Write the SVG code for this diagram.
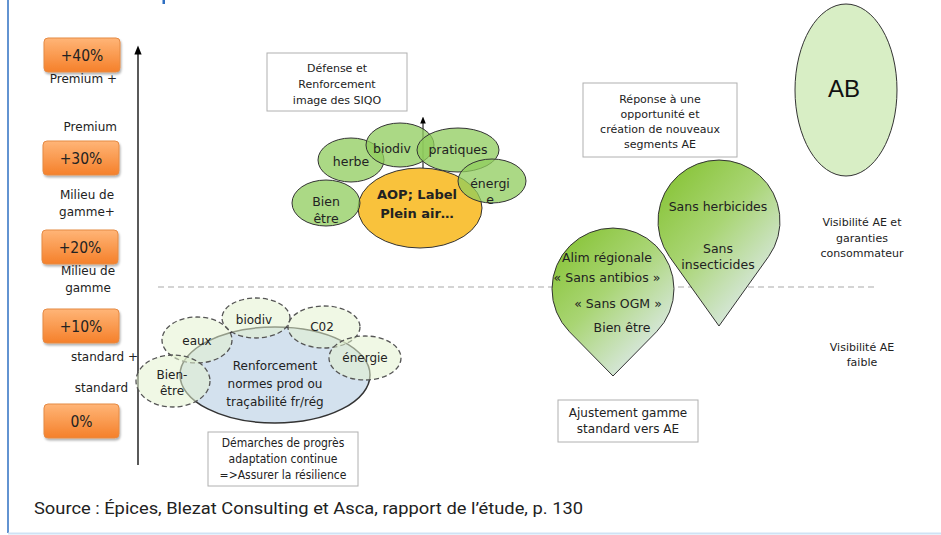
<svg xmlns="http://www.w3.org/2000/svg" width="941" height="535" viewBox="0 0 941 535">
<defs>
<linearGradient id="orange" x1="0" y1="0" x2="0" y2="1">
<stop offset="0" stop-color="#ffb577"/>
<stop offset="1" stop-color="#f5802a"/>
</linearGradient>
<linearGradient id="pin" x1="0.15" y1="0.1" x2="0.85" y2="0.95">
<stop offset="0" stop-color="#8cc63f"/>
<stop offset="0.4" stop-color="#a9d574"/>
<stop offset="1" stop-color="#e4ecf9"/>
</linearGradient>
<filter id="sh" x="-10%" y="-10%" width="130%" height="140%">
<feDropShadow dx="1" dy="2" stdDeviation="1.2" flood-color="#000" flood-opacity="0.3"/>
</filter>
<marker id="arr" viewBox="0 0 10 10" refX="5" refY="5" markerWidth="7" markerHeight="7" orient="auto">
<path d="M0,1 L10,5 L0,9 Z" fill="#000"/>
</marker>
</defs>
<style>
.t{font-family:"DejaVu Sans",Verdana,sans-serif;font-size:12px;fill:#222;text-anchor:middle}
.tc{font-family:"DejaVu Sans Condensed","DejaVu Sans",sans-serif;font-size:12px;fill:#222;text-anchor:middle}
.lab{font-family:"DejaVu Sans",Verdana,sans-serif;font-size:12px;fill:#222;text-anchor:middle}
.box{fill:#fff;stroke:#b0b0b0;stroke-width:1}
.obox{fill:url(#orange);stroke:#e58a45;stroke-width:1}
.otxt{font-family:"DejaVu Sans Condensed","DejaVu Sans",sans-serif;font-size:15.5px;fill:#222;text-anchor:middle}
.gel{fill:#8fcc5c;fill-opacity:0.75;stroke:#333;stroke-width:1}
.del{fill:#e3f2d0;fill-opacity:0.55;stroke:#555;stroke-width:1.3;stroke-dasharray:5 3}
.pin{fill:url(#pin);stroke:#333;stroke-width:1}
.ct{font-family:"DejaVu Sans",Verdana,sans-serif;font-size:12.5px;fill:#222;text-anchor:middle}
</style>
<rect x="0" y="0" width="941" height="535" fill="#fff"/>
<line x1="8" y1="0" x2="8" y2="533" stroke="#2e6fc2" stroke-width="1.5"/>
<line x1="8" y1="533.5" x2="941" y2="533.5" stroke="#cfe3f5" stroke-width="2"/>
<rect x="162.5" y="0" width="2.5" height="4" fill="#2e6fc2"/>

<g id="connectors">
<line x1="138" y1="465" x2="138" y2="50" stroke="#000" stroke-width="1.3" marker-end="url(#arr)"/>
<line x1="158" y1="287" x2="878" y2="287" stroke="#aaa" stroke-width="1.2" stroke-dasharray="6 4"/>
</g>

<g id="scale">
<g id="p40"><rect class="obox" x="44" y="38" width="76" height="34" rx="4" filter="url(#sh)"/><text class="otxt" x="82" y="61">+40%</text></g>
<g id="p30"><rect class="obox" x="43" y="141" width="76" height="34" rx="4" filter="url(#sh)"/><text class="otxt" x="81" y="164">+30%</text></g>
<g id="p20"><rect class="obox" x="42" y="230" width="76" height="34" rx="4" filter="url(#sh)"/><text class="otxt" x="80" y="253">+20%</text></g>
<g id="p10"><rect class="obox" x="43" y="309" width="76" height="34" rx="4" filter="url(#sh)"/><text class="otxt" x="81" y="332">+10%</text></g>
<g id="p0"><rect class="obox" x="44" y="404" width="75" height="34" rx="4" filter="url(#sh)"/><text class="otxt" x="81.5" y="427">0%</text></g>
<text class="t" x="117" y="83" style="text-anchor:end">Premium +</text>
<text class="t" x="117" y="131" style="text-anchor:end">Premium</text>
<text class="t" x="87" y="199">Milieu de</text>
<text class="t" x="87" y="216">gamme+</text>
<text class="t" x="88" y="275">Milieu de</text>
<text class="t" x="88" y="292">gamme</text>
<text class="t" x="138" y="361" style="text-anchor:end">standard +</text>
<text class="t" x="128" y="392" style="text-anchor:end">standard</text>
</g>

<g id="standard-cluster">
<ellipse cx="275" cy="375" rx="95" ry="48" fill="#d3e1ee" stroke="#333" stroke-width="1.5"/>
<ellipse class="del" cx="256" cy="318" rx="34" ry="20"/>
<ellipse class="del" cx="197" cy="340" rx="35" ry="23"/>
<ellipse class="del" cx="324" cy="327" rx="36" ry="21"/>
<ellipse class="del" cx="365" cy="358" rx="36" ry="22"/>
<ellipse class="del" cx="173" cy="381" rx="37" ry="26"/>
<text class="t" x="254" y="324">biodiv</text>
<text class="t" x="197" y="345">eaux</text>
<text class="t" x="322" y="331">C02</text>
<text class="t" x="365" y="362">énergie</text>
<text class="t" x="172" y="379">Bien-</text>
<text class="t" x="172" y="395">être</text>
<text class="t" x="275" y="370">Renforcement</text>
<text class="t" x="275" y="388">normes prod ou</text>
<text class="t" x="275" y="406">traçabilité fr/rég</text>
</g>
<g id="demarches">
<rect class="box" x="208" y="432" width="150" height="54"/>
<text class="tc" x="283" y="447">Démarches de progrès</text>
<text class="tc" x="283" y="463">adaptation continue</text>
<text class="tc" x="283" y="479">=&gt;Assurer la résilience</text>
</g>

<g id="siqo-box">
<rect class="box" x="267" y="53" width="140" height="58"/>
<text class="t" x="337" y="72" style="font-size:11px">Défense et</text>
<text class="t" x="337" y="88" style="font-size:11px">Renforcement</text>
<text class="t" x="337" y="104" style="font-size:11px">image des SIQO</text>
</g>
<g id="siqo-cluster">
<ellipse cx="420" cy="208" rx="62" ry="40" fill="#f9c23c" stroke="#333" stroke-width="1"/>
<line x1="423" y1="168" x2="423" y2="120" stroke="#000" stroke-width="1" marker-end="url(#arr)"/>
<ellipse class="gel" cx="351" cy="160" rx="33" ry="22"/>
<ellipse class="gel" cx="400" cy="145" rx="34" ry="22"/>
<ellipse class="gel" cx="458" cy="150" rx="41" ry="22"/>
<ellipse class="gel" cx="492" cy="181" rx="34" ry="22"/>
<ellipse class="gel" cx="326" cy="203" rx="34" ry="23"/>
<text class="ct" x="351" y="166">herbe</text>
<text class="ct" x="392" y="153">biodiv</text>
<text class="ct" x="458" y="154">pratiques</text>
<text class="ct" x="490" y="188">énergi</text>
<text class="ct" x="490" y="204">e</text>
<text class="ct" x="326" y="206">Bien</text>
<text class="ct" x="326" y="223">être</text>
<text class="ct" x="417" y="199" style="font-weight:bold;font-size:13px">AOP; Label</text>
<text class="ct" x="417" y="218" style="font-weight:bold;font-size:13px">Plein air…</text>
</g>

<g id="reponse-box">
<rect class="box" x="583" y="83" width="154" height="74"/>
<text class="t" x="660" y="103" style="font-size:11px">Réponse à une</text>
<text class="t" x="660" y="118" style="font-size:11px">opportunité et</text>
<text class="t" x="660" y="133" style="font-size:11px">création de nouveaux</text>
<text class="t" x="660" y="148" style="font-size:11px">segments AE</text>
</g>
<g id="pin-left">
<path class="pin" d="M613,376 L569.5,331.8 A61,61 0 1 1 656.5,331.8 Z"/>
<text class="ct" x="607" y="262">Alim régionale</text>
<text class="ct" x="607" y="282">« Sans antibios »</text>
<text class="ct" x="618" y="308">« Sans OGM »</text>
<text class="ct" x="622" y="332">Bien être</text>
</g>
<g id="pin-right">
<path class="pin" d="M719,326 L669.3,256.4 A61,61 0 1 1 768.7,256.4 Z"/>
<text class="ct" x="718" y="211">Sans herbicides</text>
<text class="ct" x="718" y="253">Sans</text>
<text class="ct" x="718" y="269">insecticides</text>
</g>
<g id="ajustement">
<rect class="box" x="558" y="400" width="140" height="42"/>
<text class="t" x="628" y="417">Ajustement gamme</text>
<text class="t" x="628" y="433">standard vers AE</text>
</g>

<g id="ab">
<ellipse cx="846" cy="90" rx="51" ry="86" fill="#d8eec5" stroke="#333" stroke-width="1"/>
<text x="844" y="97" style="font-family:'Liberation Sans',Arial,sans-serif;font-size:24px;fill:#111;text-anchor:middle">AB</text>
</g>
<g id="visibilite">
<text class="t" x="862" y="226" style="font-size:11px">Visibilité  AE et</text>
<text class="t" x="862" y="242" style="font-size:11px">garanties</text>
<text class="t" x="862" y="257" style="font-size:11px">consommateur</text>
<text class="t" x="862" y="351" style="font-size:11px">Visibilité  AE</text>
<text class="t" x="862" y="366" style="font-size:11px">faible</text>
</g>

<text x="34" y="514" textLength="549" lengthAdjust="spacingAndGlyphs" style="font-family:Roboto,'Liberation Sans',sans-serif;font-size:16px;fill:#222">Source : Épices, Blezat Consulting et Asca, rapport de l’étude, p. 130</text>
</svg>
